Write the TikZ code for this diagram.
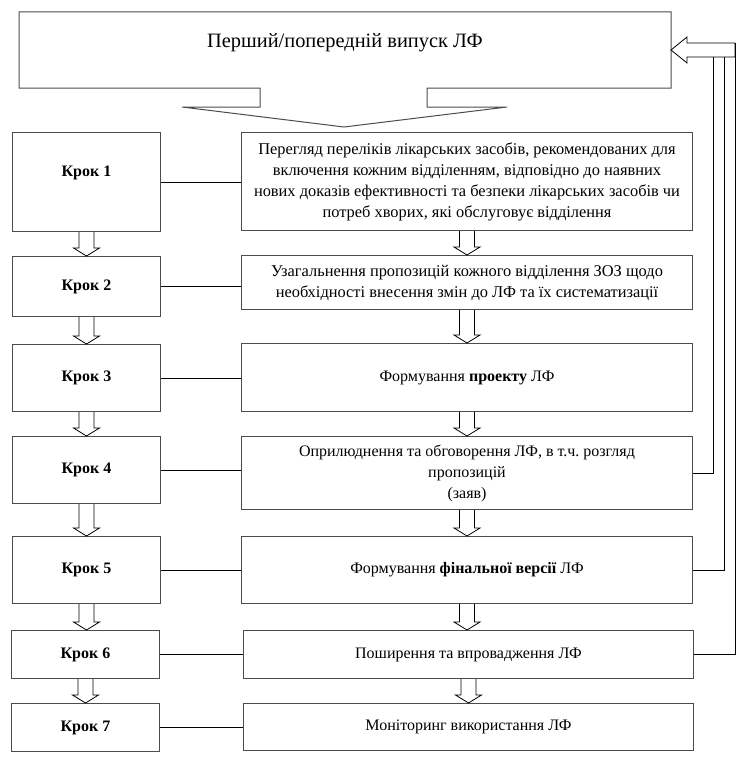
\documentclass[tikz,border=0pt]{standalone}
\usepackage{fontspec}
\setmainfont{Liberation Serif}
\usepackage{tikz}
\usetikzlibrary{calc,positioning}
\frenchspacing

% hollow block arrow from the bottom of one box to the top of the next
\newcommand{\blockarrow}[2]{%
  \draw[hollow] let \p1=(#1.south), \p2=(#2.north) in
    (\x1-7.5pt,\y1) -- (\x1-7.5pt,\y2+8pt) -- (\x1-13pt,\y2+8pt) -- (\x1,\y2)
    -- (\x1+13pt,\y2+8pt) -- (\x1+7.5pt,\y2+8pt) -- (\x1+7.5pt,\y1);}

\begin{document}
\begin{tikzpicture}[
  x=1pt, y=-1pt,
  font=\fontsize{16}{21}\selectfont,
  stepbox/.style={
    draw=black!70,
    line width=1pt,
    anchor=north west,
    inner sep=0pt,
    align=center,
    minimum width=148pt,
    font=\fontsize{16}{21}\selectfont\bfseries
  },
  taskbox/.style={
    draw=black!70,
    line width=1pt,
    anchor=north west,
    inner sep=0pt,
    align=center
  },
  link/.style={line width=1pt,draw=black},
  hollow/.style={line width=0.8pt,draw=black,fill=white}
]
\useasboundingbox (0,0) rectangle (744,768);

% 1. First release (callout)
\draw[draw=black!70,line width=1pt] (19,12) -- (671,12) -- (671,88) -- (427,88) -- (427,107)
  -- (507,107) -- (344,127) -- (182,107) -- (260,107) -- (260,88) -- (19,88) -- cycle;
\node[font=\fontsize{20.4}{24}\selectfont] (release) at (345,43) {Перший/попередній випуск ЛФ};

% 2. Steps (left column)
\node[stepbox,minimum height=99pt,text depth=22pt] (s1) at (12,132) {Крок 1};
\node[stepbox,minimum height=60pt] (s2) at (12,256) {Крок 2};
\node[stepbox,minimum height=67pt] (s3) at (12,344) {Крок 3};
\node[stepbox,minimum height=67pt] (s4) at (12,436) {Крок 4};
\node[stepbox,minimum height=67pt] (s5) at (12,536) {Крок 5};
\node[stepbox,minimum height=48pt] (s6) at (11,630) {Крок 6};
\node[stepbox,minimum height=48pt] (s7) at (11,703) {Крок 7};

% 3. Tasks (right column)
\node[taskbox,minimum width=451pt,minimum height=98pt,font=\fontsize{16.4}{21}\selectfont] (t1) at (241,132)
  {Перегляд переліків лікарських засобів, рекомендованих для\\
   включення кожним відділенням, відповідно до наявних\\
   нових доказів ефективності та безпеки лікарських засобів чи\\
   потреб хворих, які обслуговує відділення};
\node[taskbox,minimum width=451pt,minimum height=54pt,font=\fontsize{16.4}{21}\selectfont] (t2) at (241,255)
  {Узагальнення пропозицій кожного відділення ЗОЗ щодо\\
   необхідності внесення змін до ЛФ та їх систематизації};
\node[taskbox,minimum width=451pt,minimum height=68pt] (t3) at (241,343)
  {Формування \textbf{проекту} ЛФ};
\node[taskbox,minimum width=451pt,minimum height=73pt] (t4) at (241,436)
  {Оприлюднення та обговорення ЛФ, в т.ч. розгляд\\ пропозицій\\ (заяв)};
\node[taskbox,minimum width=451pt,minimum height=67pt] (t5) at (241,536)
  {Формування \textbf{фінальної версії} ЛФ};
\node[taskbox,minimum width=450pt,minimum height=48pt] (t6) at (243,630)
  {Поширення та впровадження ЛФ};
\node[taskbox,minimum width=450pt,minimum height=47pt] (t7) at (243,703)
  {Моніторинг використання ЛФ};

% Connections
\foreach \i in {1,...,7} {
  \draw[link] (s\i.east) -- (s\i.east -| t\i.west);
}
\foreach \a/\b in {s1/s2,s2/s3,s3/s4,s4/s5,s5/s6,s6/s7,t1/t2,t2/t3,t3/t4,t4/t5,t5/t6,t6/t7} {
  \blockarrow{\a}{\b}
}

% Feedback to the release
\draw[hollow] (671,50) -- (687,37) -- (687,43) -- (735,43) -- (735,57) -- (687,57) -- (687,63) -- cycle;
\coordinate (fb4) at (713,57);
\coordinate (fb5) at (724,57);
\coordinate (fb6) at (735,43);
\draw[link] (t4.east) -| (fb4);
\draw[link] (t5.east) -| (fb5);
\draw[link] (t6.east) -| (fb6);

\end{tikzpicture}
\end{document}
